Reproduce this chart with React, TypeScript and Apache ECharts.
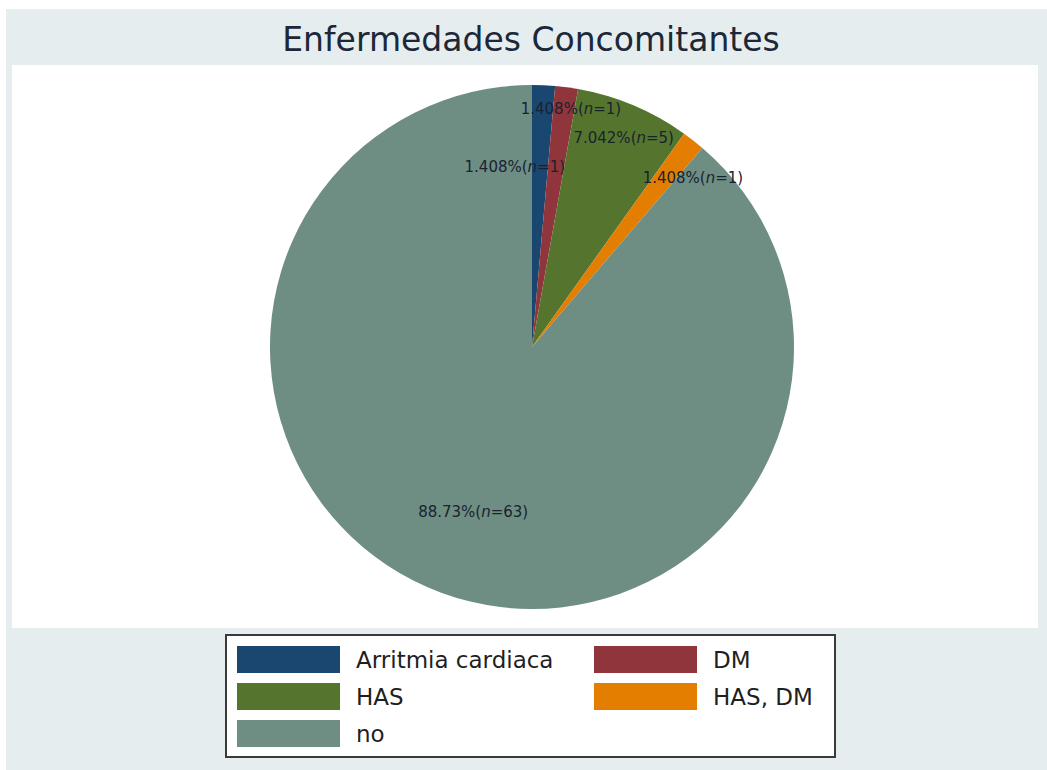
import React, { useEffect, useRef } from 'react';
import * as echarts from 'echarts';

const TITLE = 'Enfermedades Concomitantes';
const CATEGORIES = ['Arritmia cardiaca', 'DM', 'HAS', 'HAS, DM', 'no'];
const COUNTS = [1, 1, 5, 1, 63];
const COLORS = ['#1a476f', '#90353b', '#55752f', '#e37e00', '#6e8e84'];

// label placement: fraction of radius and angular shift (degrees) from slice mid-angle
const LABEL_RADIUS = [0.69, 0.92, 0.87, 0.89, 0.67];
const LABEL_ANGLE_SHIFT = [-8, 1.7, 0.9, 5.6, -0.7];

const W = 1047;
const H = 770;
const CX = 532;
const CY = 347;
const R = 262;

const LEGEND_COLS = [237, 594];
const LEGEND_ROWS = [646, 683, 720];

export default function App() {
  const ref = useRef<HTMLDivElement>(null);

  useEffect(() => {
    if (!ref.current) return;
    const chart = echarts.init(ref.current, null, { renderer: 'svg' });
    const total = COUNTS.reduce((a, b) => a + b, 0);
    const font = "'DejaVu Sans', Verdana, sans-serif";

    const option: any = {
      animation: false,
      backgroundColor: '#ffffff',
      title: {
        text: TITLE,
        left: 531,
        top: 23,
        padding: 0,
        textAlign: 'center',
        textStyle: { fontSize: 33, fontWeight: 'normal', color: '#1c2838', fontFamily: font },
      },
      graphic: [
        { type: 'rect', z: -20, silent: true, shape: { x: 6, y: 9, width: W - 6, height: H - 9 }, style: { fill: '#e5edef' } },
        { type: 'rect', z: -19, silent: true, shape: { x: 12, y: 65, width: 1026, height: 563 }, style: { fill: '#ffffff' } },
        { type: 'rect', z: -18, silent: true, shape: { x: 226, y: 635, width: 609, height: 122 }, style: { fill: '#ffffff', stroke: '#3a3a3a', lineWidth: 2 } },
      ],
      legend: CATEGORIES.map((name, i) => ({
        data: [name],
        left: LEGEND_COLS[i % 2],
        top: LEGEND_ROWS[Math.floor(i / 2)],
        orient: 'horizontal',
        padding: 0,
        itemWidth: 103,
        itemHeight: 27,
        icon: 'rect',
        selectedMode: false,
        textStyle: { fontSize: 23, color: '#1f1f1f', fontFamily: font, padding: [0, 0, 0, 11] },
      })),
      series: [
        {
          type: 'pie',
          center: [CX, CY],
          radius: R,
          startAngle: 90,
          clockwise: true,
          avoidLabelOverlap: false,
          itemStyle: { borderWidth: 0 },
          emphasis: { disabled: true },
          data: CATEGORIES.map((name, i) => ({
            name,
            value: COUNTS[i],
            itemStyle: { color: COLORS[i] },
          })),
          label: {
            show: true,
            position: 'inside',
            formatter: (p: any) => {
              const pct = ((p.value / total) * 100).toPrecision(4);
              return `{a|${pct}%(}{i|n}{a|=${p.value})}`;
            },
            rich: {
              a: { fontSize: 15, color: '#1a2230', fontFamily: font },
              i: { fontSize: 15, color: '#1a2230', fontFamily: font, fontStyle: 'italic' },
            },
          },
          labelLine: { show: false },
          labelLayout: (p: any) => {
            const i = p.dataIndex;
            let before = 0;
            for (let k = 0; k < i; k++) before += COUNTS[k];
            const mid = ((before + COUNTS[i] / 2) / total) * 360 + LABEL_ANGLE_SHIFT[i];
            const rad = (mid * Math.PI) / 180;
            const d = R * LABEL_RADIUS[i];
            return {
              x: CX + d * Math.sin(rad),
              y: CY - d * Math.cos(rad),
              align: 'center',
              verticalAlign: 'middle',
            };
          },
        },
      ],
    };

    chart.setOption(option);
    return () => chart.dispose();
  }, []);

  return (
    <div
      ref={ref}
      style={{ position: 'fixed', left: 0, top: 0, width: W, height: H }}
    />
  );
}
